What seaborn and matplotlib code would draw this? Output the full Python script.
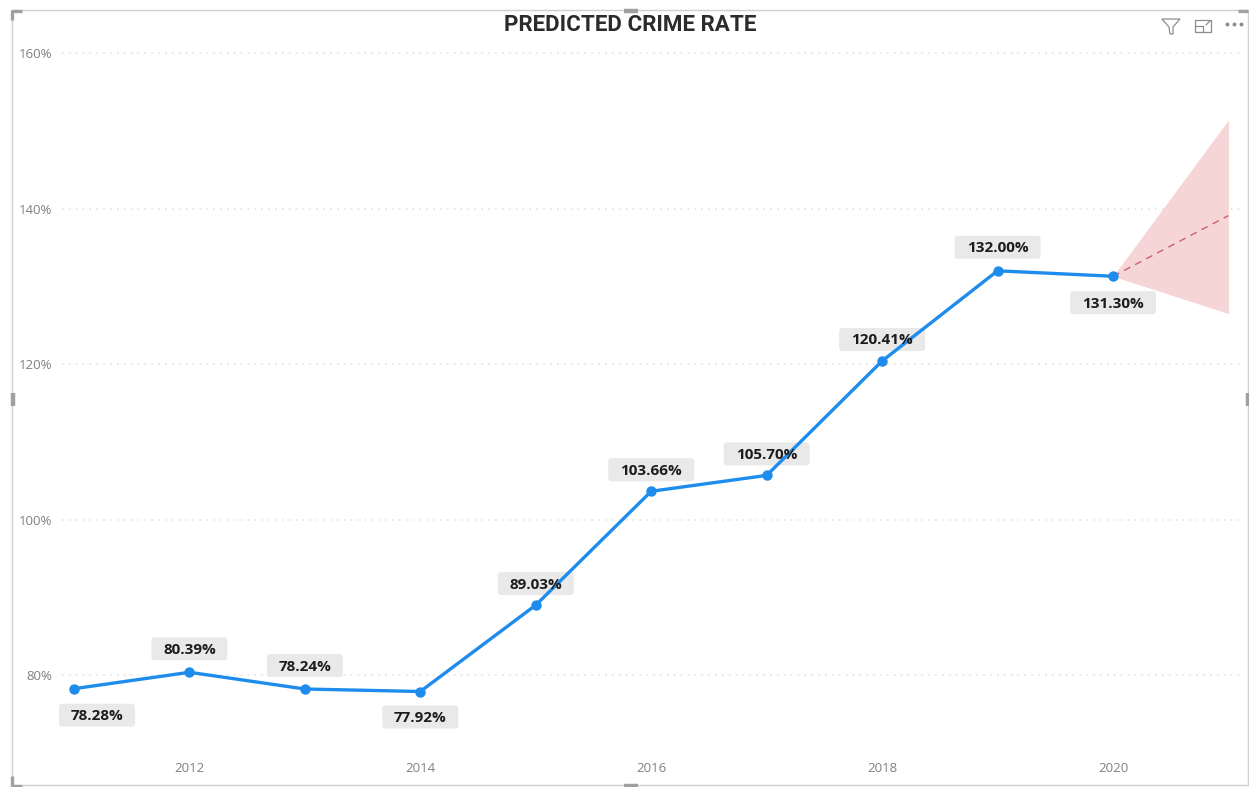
import matplotlib
matplotlib.use('Agg')
import matplotlib.pyplot as plt
from matplotlib.lines import Line2D
from matplotlib.patches import FancyBboxPatch, Rectangle, Polygon
from matplotlib.transforms import Affine2D
import pandas as pd
import seaborn as sns

W, H = 1249, 787

# Data
years = [2011, 2012, 2013, 2014, 2015, 2016, 2017, 2018, 2019, 2020]
rates = [78.28, 80.39, 78.24, 77.92, 89.03, 103.66, 105.70, 120.41, 132.00, 131.30]
forecast_years = [2020, 2021]
forecast_mid = [131.30, 139.10]
forecast_hi = [131.30, 151.40]
forecast_lo = [131.30, 126.50]
x_ticks = [2012, 2014, 2016, 2018, 2020]
y_ticks = [80, 100, 120, 140, 160]
# label offset from its point, in pixels
label_dx = [23, 0, 0, 0, 0, 0, 0, 0, 0, 0]
label_dy = [-26, 24, 24, -25, 22, 22, 22, 22, 24, -26]

sns.set_theme(style="white")
plt.rcParams['font.family'] = ['Open Sans', 'DejaVu Sans']

fig = plt.figure(figsize=(W / 100, H / 100), dpi=100)
ax = fig.add_axes([62 / W, 1 - 750 / H, (1240 - 62) / W, (750 - 53) / H])

df = pd.DataFrame({'year': years, 'rate': rates})
fc = pd.DataFrame({'year': forecast_years, 'mid': forecast_mid})

ax.fill_between(forecast_years, forecast_lo, forecast_hi, color='#f5d5d6', lw=0, zorder=2)
sns.lineplot(data=fc, x='year', y='mid', ax=ax, color='#c9606c', lw=1, dashes=(5, 4), zorder=3)
sns.lineplot(data=df, x='year', y='rate', ax=ax, color='#1e8cec', lw=2.4, marker='o',
             markersize=7.5, markeredgewidth=0, zorder=4)

ax.set_xlim(2010.896, 2021.10)
ax.set_ylim(70.4, 160)
ax.set_xticks(x_ticks)
ax.set_yticks(y_ticks)
ax.set_yticklabels([f'{v}%' for v in y_ticks])
ax.set_xlabel('')
ax.set_ylabel('')
ax.tick_params(axis='both', length=0, labelsize=9.5, labelcolor='#808080')
ax.tick_params(axis='x', pad=9)
ax.tick_params(axis='y', pad=7)
ax.xaxis.grid(False)
ax.yaxis.grid(True, color='#dedede', lw=1.1, linestyle=(0, (1, 3.5)), clip_on=False)
ax.set_axisbelow(True)
sns.despine(ax=ax, left=True, bottom=True)

# label box sits under the line, the label text over it
for x, y, dx, dy in zip(years, rates, label_dx, label_dy):
    cx, cy = ax.transData.transform((x, y))
    box_w = 86 if y >= 100 else 76
    ax.add_patch(FancyBboxPatch((cx + dx - box_w / 2, cy + dy - 12), box_w, 23,
                                boxstyle='round,pad=0,rounding_size=3', fc='#e9e9e9', ec='none',
                                transform=Affine2D(), zorder=3.5, clip_on=False))
    ax.annotate(f'{y:.2f}%', (x, y), xytext=(dx * 0.72, (dy - 1.5) * 0.72), textcoords='offset points',
                ha='center', va='center', fontsize=11, fontweight='bold', color='#1c1c1c', zorder=5)

# visual frame, handles and header icons use pixel positions from top-left
px = Affine2D().scale(1, -1).translate(0, H)
fig.add_artist(Rectangle((12, 10), 1236, 775, fill=False, ec='#cfcfcf', lw=1, transform=px))
handle = '#a0a0a0'
for xs, ys in [([12, 12, 22], [20, 11, 11]), ([12, 12, 22], [776, 786, 786]), ([1238, 1248], [11, 11])]:
    fig.add_artist(Line2D(xs, ys, color=handle, lw=2.4, solid_capstyle='butt', transform=px))
for xs, ys in [([624, 638], [11, 11]), ([624, 638], [786, 786]), ([12.5, 12.5], [393, 406]), ([1248, 1248], [393, 406])]:
    fig.add_artist(Line2D(xs, ys, color=handle, lw=3.2, solid_capstyle='butt', transform=px))

icon = '#8c8c8c'
fig.add_artist(Polygon([(1162, 19), (1180, 19), (1173, 27), (1173, 34), (1170, 34), (1169, 27)],
                       closed=True, fill=False, ec=icon, lw=0.9, transform=px))
fig.add_artist(Rectangle((1195, 20), 16, 12, fill=False, ec=icon, lw=0.9, transform=px))
fig.add_artist(Line2D([1195, 1203, 1203], [26, 26, 32], color=icon, lw=0.9, transform=px))
fig.add_artist(Line2D([1206, 1210], [25, 21], color=icon, lw=0.9, transform=px))
fig.add_artist(Line2D([1227, 1234, 1241], [24, 24, 24], color=icon, lw=0, marker='o', markersize=1.8,
                      transform=px))

fig.text(630.5 / W, 1 - 25 / H, 'PREDICTED CRIME RATE', ha='center', va='center', fontsize=16.1,
         fontweight='bold', color='#2b2b2b', family=['Roboto', 'DejaVu Sans'])

fig.savefig('out.png', dpi=100)
